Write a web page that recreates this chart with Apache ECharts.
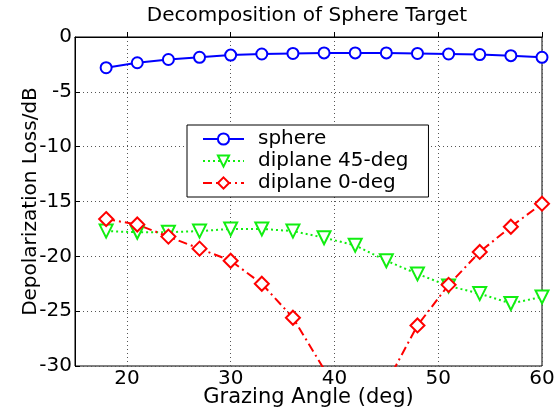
<!DOCTYPE html>
<html lang='en'>
  <head>
    <meta charset='utf-8'>
    <title>Decomposition of Sphere Target</title>
  </head>
  <body style="margin:0;background:#fff;">
    <div id="main" style="width:554px;height:413px;"></div>
    <script src="https://cdn.jsdelivr.net/npm/echarts@6/dist/echarts.min.js"></script>
    <script>
      // grazing angles, deg
      var angles = [18, 21, 24, 27, 30, 33, 36, 39, 42, 45, 48, 51, 54, 57, 60];
      // depolarization loss, dB
      var sphere = [-2.8, -2.35, -2.05, -1.85, -1.65, -1.55, -1.5, -1.45, -1.45, -1.45, -1.5, -1.55, -1.6, -1.7, -1.85];
      var diplane45 = [-17.7, -17.8, -17.8, -17.7, -17.5, -17.5, -17.7, -18.3, -19.0, -20.4, -21.6, -22.7, -23.4, -24.3, -23.7];
      var diplane0 = [-16.6, -17.1, -18.2, -19.3, -20.4, -22.5, -25.6, -30.3, -35, -31.6, -26.3, -22.6, -19.6, -17.3, -15.2];
      var xTicks = [20, 30, 40, 50, 60];

      function pairs(ys) {
        return angles.map(function(x, i) { return [x, ys[i]]; });
      }

      var font = 'DejaVu Sans';
      var myChart = echarts.init(document.getElementById('main'));

      var option = {
        backgroundColor: '#fff',
        animation: false,
        title: {
          text: 'Decomposition of Sphere Target',
          left: 302,
          textAlign: 'center',
          top: 1,
          textStyle: { fontFamily: font, fontSize: 20, fontWeight: 'normal', color: '#000' }
        },
        grid: {
          left: 75, right: 12, top: 37, bottom: 47,
          outerBoundsMode: 'none',
          show: true, borderColor: '#000', borderWidth: 1
        },
        legend: {
          orient: 'vertical',
          left: 187,
          top: 125,
          padding: [4, 20, 4, 15],
          itemGap: 2,
          itemWidth: 41,
          itemHeight: 14,
          backgroundColor: '#fff',
          borderColor: '#000',
          borderWidth: 1,
          textStyle: { fontFamily: font, fontSize: 20, color: '#000', padding: [0, 0, 0, 9] },
          data: ['sphere', 'diplane 45-deg', 'diplane 0-deg']
        },
        xAxis: {
          type: 'value',
          min: 15, max: 60,
          name: 'Grazing Angle (deg)',
          nameLocation: 'middle',
          nameGap: 21,
          nameMoveOverlap: false,
          nameTextStyle: { fontFamily: font, fontSize: 21, color: '#000' },
          axisLine: { lineStyle: { color: '#000', width: 1 } },
          axisTick: { inside: true, length: 5, customValues: xTicks, lineStyle: { color: '#000' } },
          axisLabel: { customValues: xTicks, margin: 3, fontFamily: font, fontSize: 20, color: '#000' },
          splitLine: { show: true, lineStyle: { color: '#555', type: [1, 3], width: 1 } }
        },
        yAxis: {
          type: 'value',
          min: -30, max: 0, interval: 5,
          name: 'Depolarization Loss/dB',
          nameLocation: 'middle',
          nameGap: 34,
          nameMoveOverlap: false,
          nameTextStyle: { fontFamily: font, fontSize: 20, color: '#000' },
          axisLine: { show: true, lineStyle: { color: '#000', width: 1 } },
          axisTick: { show: true, inside: true, length: 5, lineStyle: { color: '#000' } },
          axisLabel: { margin: 3, fontFamily: font, fontSize: 20, color: '#000' },
          splitLine: { show: true, lineStyle: { color: '#555', type: [1, 3], width: 1 } }
        },
        series: [
          {
            name: 'sphere',
            type: 'line',
            data: pairs(sphere),
            symbol: 'circle',
            symbolSize: 11,
            color: '#0000ff',
            lineStyle: { color: '#0000ff', width: 2 },
            itemStyle: { color: '#fff', borderColor: '#0000ff', borderWidth: 2 }
          },
          {
            name: 'diplane 45-deg',
            type: 'line',
            data: pairs(diplane45),
            symbol: 'triangle',
            symbolRotate: 180,
            symbolSize: 13,
            color: '#11ee11',
            lineStyle: { color: '#11ee11', width: 2, type: [2, 3] },
            itemStyle: { color: '#fff', borderColor: '#11ee11', borderWidth: 2 }
          },
          {
            name: 'diplane 0-deg',
            type: 'line',
            data: pairs(diplane0),
            symbol: 'diamond',
            symbolSize: 14,
            clip: true,
            color: '#ff0000',
            lineStyle: { color: '#ff0000', width: 2, type: [9, 4, 2, 4] },
            itemStyle: { color: '#fff', borderColor: '#ff0000', borderWidth: 2 }
          }
        ]
      };

      myChart.setOption(option);
    </script>
  </body>
</html>
